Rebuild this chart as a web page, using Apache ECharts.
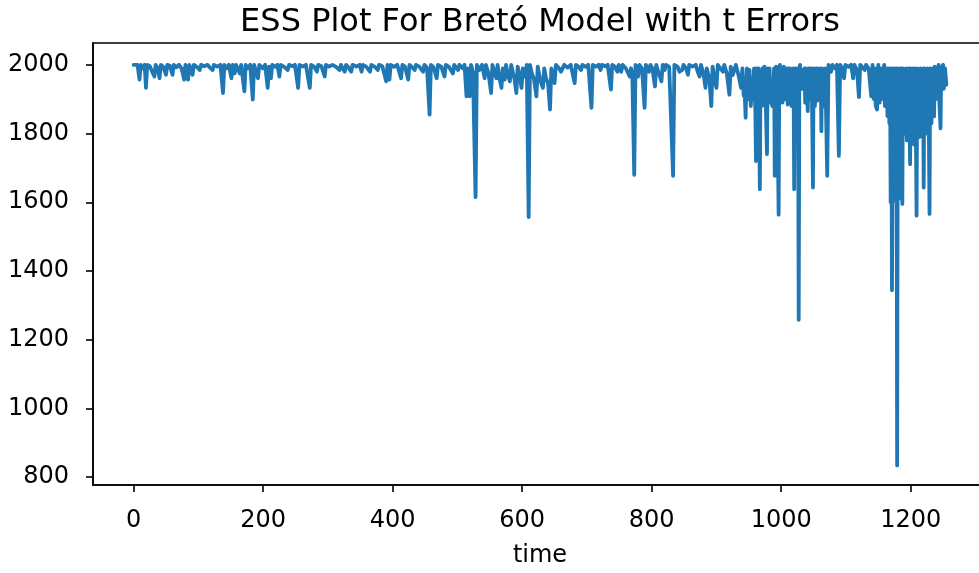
<!DOCTYPE html>
<html>
<head>
<meta charset="utf-8">
<script src="https://cdn.jsdelivr.net/npm/echarts@6/dist/echarts.min.js"></script>
<style>html,body{margin:0;padding:0;background:#fff;overflow:hidden;}#c{width:1000px;height:573px;}</style>
</head>
<body>
<div id="c"></div>
<script>
var titleText = 'ESS Plot For Bretó Model with t Errors';
var xAxisName = 'time';
var xTicks = [0, 200, 400, 600, 800, 1000, 1200];
var yTicks = [800, 1000, 1200, 1400, 1600, 1800, 2000];

var time = [
0,3,6,9,11,14,17,19,21,25,28,32,34,37,40,42,46,50,52,56,60,62,66,70,74,78,80,84,86,91,93,97,102,104,109,114,118,122,124,129,134,138,140,144,147,151,153,156,158,164,166,171,173,176,180,184,186,192,194,199,203,207,209,212,214,219,222,225,227,232,238,240,245,249,
254,256,261,266,272,274,279,283,285,290,295,297,302,307,312,318,320,326,328,331,336,338,344,349,352,354,359,365,367,372,377,379,384,390,392,395,397,402,407,413,415,419,424,426,430,434,436,441,447,449,453,457,459,463,468,470,475,480,482,487,493,495,
498,501,503,508,511,514,516,519,521,524,528,530,534,538,542,544,548,552,554,557,560,562,565,568,570,573,575,578,581,583,586,588,591,593,596,599,601,605,607,610,612,615,618,622,624,628,632,634,637,640,643,645,650,652,657,660,663,665,670,675,681,683,687,691,693,698,702,707,709,714,718,721,723,728,732,737,739,743,747,749,
753,755,760,766,768,770,773,775,779,781,785,789,791,796,798,801,805,807,811,815,817,820,822,827,833,835,840,843,847,849,853,856,858,863,868,871,874,876,880,883,885,889,892,894,897,900,902,906,910,912,916,920,922,925,928,930,934,938,
940,942,943,945,946,947,949,951,953,955,
956,958,960,961,962,964,965,967,968,970,
971,972,974,975,976,978,979,980,982,983,
985,986,987,989,990,991,992,993,994,996,
997,998,999,1000,1001,1002,1004,1005,1007,1008,
1010,1011,1012,1014,1015,1016,1018,1019,1020,1021,
1022,1023,1025,1026,1027,1028,1029,1030,1032,1033,
1035,1036,1037,1038,1039,1041,1042,1043,1044,1046,
1047,1049,1050,1051,1052,1053,1054,1056,1057,1059,
1060,1061,1062,1063,1065,1067,1068,1071,1073,
1077,1079,1083,1086,1089,1091,1094,1097,1099,1104,1108,1111,1113,1117,1120,1122,1126,1129,1131,1135,1139,1141,
1143,1144,1146,1148,1149,1150,1152,1154,1155,1157,
1158,1159,1160,1162,1163,1164,1165,1166,1167,1168,
1169,1170,1171,1172,1173,1174,1175,1176,1177,1178,
1179,1180,1181,1182,1183,1184,1185,1186,1187,1188,
1189,1190,1192,1193,1194,1195,1196,1197,1199,1200,
1201,1202,1203,1204,1205,1206,1207,1208,1209,1210,
1211,1212,1214,1215,1216,1217,1218,1219,1220,1221,
1222,1223,1225,1226,1227,1228,1229,1230,1231,1232,
1233,1234,1235,1236,1237,1239,1240,1242,1243,1244,
1246,1247,1248,1250,1251,1252,1253,1255
];

var ess = [
2000,1998,2000,1957,2000,1990,2000,1933,2000,1996,2000,1966,2000,1990,1961,2000,1994,1971,2000,1997,1971,2000,1993,2000,1990,1957,2000,1957,2000,1971,2000,1995,1985,2000,1996,2000,1992,1985,2000,1995,2000,1918,2000,1990,2000,1961,2000,1975,2000,1975,2000,1923,2000,1990,2000,1899,2000,1961,2000,1990,2000,1933,1995,1961,2000,1994,2000,1966,2000,1995,1985,2000,1996,2000,
1933,2000,1995,2000,1933,2000,1994,1980,2000,1996,1966,2000,1995,2000,1995,1985,2000,1980,2000,1994,1980,2000,1995,2000,1980,2000,1995,1980,2000,1995,1985,2000,1996,1952,2000,1957,2000,1994,2000,1961,2000,1995,1957,2000,1993,1985,2000,1995,1980,2000,1992,1855,2000,1993,1961,2000,1995,1966,2000,1994,1975,2000,
1996,1985,2000,1990,2000,1908,1990,1908,2000,1980,1615,2000,1985,2000,1961,2000,1975,1918,2000,1980,1961,2000,1960,1933,1990,1957,2000,1970,1952,2000,1975,1960,1918,1995,1970,1933,1990,1965,2000,1557,2000,1975,1960,1908,1995,1955,1933,1990,1960,1945,1870,1990,1947,2000,1990,1980,1980,2000,1992,2000,1947,2000,1995,1985,2000,1994,2000,1875,2000,1995,2000,1985,2000,1996,2000,1928,2000,1995,1980,2000,
1980,2000,1990,1966,1990,1975,1680,2000,1966,2000,1990,1875,2000,1980,2000,1990,1937,2000,1975,1952,2000,1985,2000,1994,1677,2000,1995,1980,1985,2000,1990,1971,2000,1995,2000,1980,1966,2000,1975,1933,1990,1960,1880,1995,1960,1933,2000,1990,1980,2000,1975,1913,1995,1970,1966,2000,1970,1933,
1990,1910,1950,1846,1930,1990,1900,1985,1880,1960,
1900,1990,1870,1720,1990,1890,1990,1638,1960,1880,
1990,1900,1995,1880,1900,1740,1990,1900,1990,1890,
1952,1880,1910,1990,1677,1960,1995,1890,1920,1564,
1990,2000,1900,1950,1990,1890,1995,1900,1930,1990,
1884,1990,1900,1990,1920,1880,1900,1990,1638,1990,
1900,1990,1960,1990,1258,1990,2000,1950,1985,1930,
1971,1990,1890,1990,1940,1865,1990,1900,1990,1900,
1990,1643,1990,1995,1880,1930,1990,1896,1990,1900,
1920,1990,1807,1990,1880,1900,1990,1677,2000,
1980,2000,1990,2000,1735,2000,1990,1961,2000,1994,2000,1961,2000,1985,1906,2000,1992,1985,2000,1990,1908,2000,
1900,1990,1880,1870,1990,2000,1890,1990,1900,1971,
1990,2000,1880,1940,1990,1851,1990,1995,1830,1990,
1600,1990,1344,1700,1990,1620,1605,1990,1650,1990,
834,1990,1620,1980,1640,1990,1610,1990,1595,1990,
1880,1800,1890,1990,1780,1790,1850,1990,1711,1990,
1990,1800,1880,1990,1768,1990,1995,1800,1561,1990,
1990,1810,1790,1990,1995,1800,1900,1990,1643,1990,
1985,1800,1820,1990,1995,1810,1566,1990,1990,1830,
1940,1990,1930,1850,1995,1900,1990,1920,2000,1900,
1815,1990,1995,2000,1930,1960,1990,1942
];

var seriesData = time.map(function (t, i) { return [t, ess[i]]; });

var fontFamily = 'DejaVu Sans';
function plain(v) { return String(v); }
var chart = echarts.init(document.getElementById('c'), null, { renderer: 'canvas', width: 1000, height: 573 });
chart.setOption({
  animation: false,
  backgroundColor: '#ffffff',
  title: {
    text: titleText,
    left: 535,
    textAlign: 'center',
    top: 2,
    textStyle: { fontFamily: fontFamily, fontSize: 32, fontWeight: 'normal', color: '#000' }
  },
  grid: {
    left: 93, top: 43, right: 13, bottom: 84.5,
    show: true, borderColor: '#000', borderWidth: 1.6, backgroundColor: 'transparent'
  },
  xAxis: {
    type: 'value',
    min: -62.75, max: 1317.75,
    name: xAxisName,
    nameLocation: 'middle',
    nameGap: 59,
    nameTextStyle: { fontFamily: fontFamily, fontSize: 24, color: '#000' },
    splitLine: { show: false },
    axisLine: { show: true, onZero: false, lineStyle: { color: '#000', width: 1.6 } },
    axisTick: { show: true, length: 7, lineStyle: { color: '#000', width: 1.6 }, customValues: xTicks },
    axisLabel: { fontFamily: fontFamily, fontSize: 24, color: '#000', margin: 24, customValues: xTicks, formatter: plain }
  },
  yAxis: {
    type: 'value',
    min: 776.9, max: 2063.6,
    splitLine: { show: false },
    axisLine: { show: true, onZero: false, lineStyle: { color: '#000', width: 1.6 } },
    axisTick: { show: true, length: 7, lineStyle: { color: '#000', width: 1.6 }, customValues: yTicks },
    axisLabel: { fontFamily: fontFamily, fontSize: 24, color: '#000', margin: 24, customValues: yTicks, formatter: plain }
  },
  series: [{
    type: 'line',
    data: seriesData,
    showSymbol: false,
    symbol: 'none',
    lineStyle: { color: '#1f77b4', width: 3.8, cap: 'round', join: 'round' },
    itemStyle: { color: '#1f77b4' }
  }]
});
</script>
</body>
</html>
